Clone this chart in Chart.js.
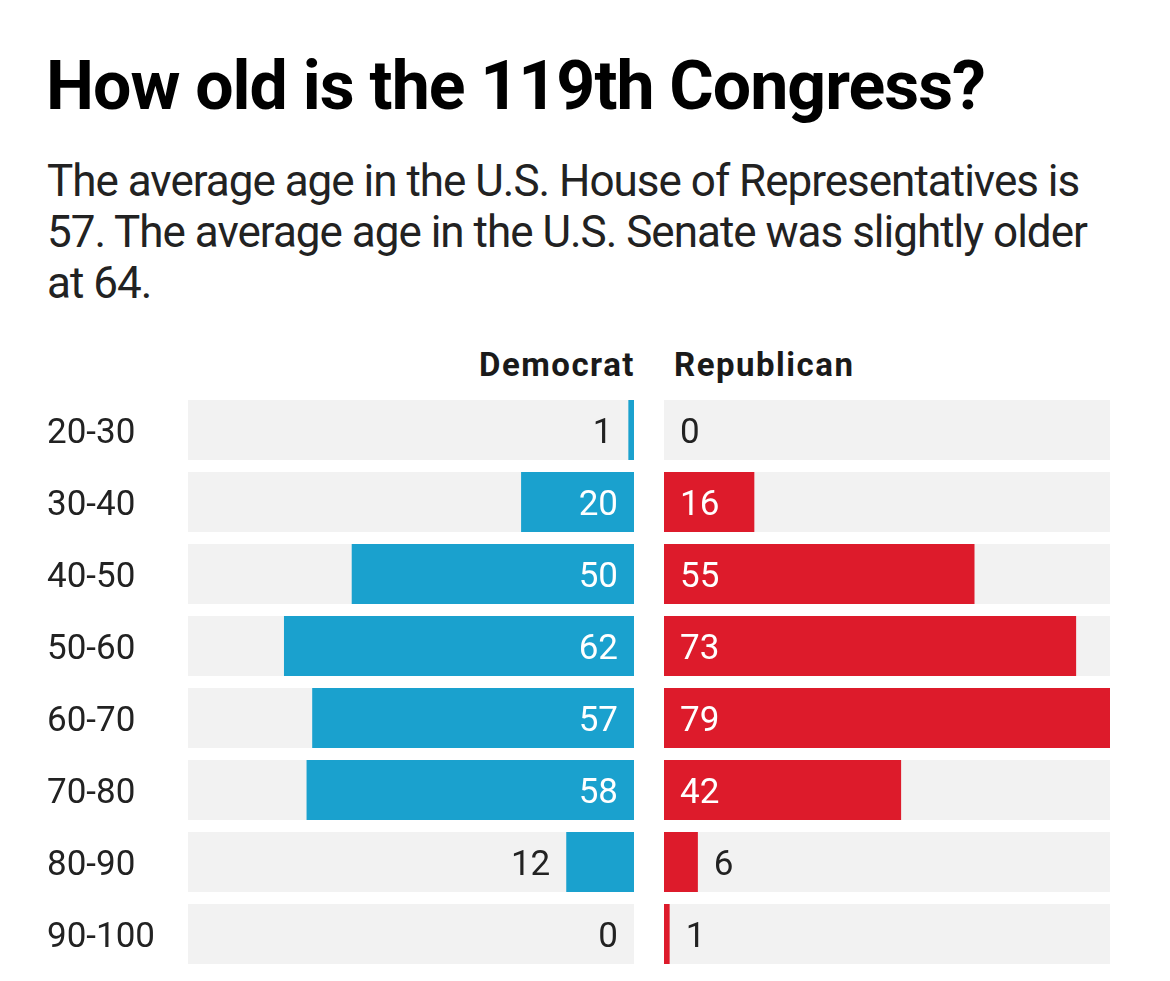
<!DOCTYPE html>
<html>
<head>
<meta charset="utf-8">
<script src="https://cdn.jsdelivr.net/npm/chart.js@4.4.1/dist/chart.umd.min.js"></script>
<style>
  html, body { margin: 0; padding: 0; background: #fff; }
  body { width: 1170px; height: 981px; position: relative; overflow: hidden; font-family: Roboto, sans-serif; color: #000; }
  h1 { position: absolute; left: 46px; top: 46px; margin: 0; font-size: 68px; font-weight: 700; line-height: 80px; letter-spacing: -1px; white-space: nowrap; }
  p.sub { position: absolute; left: 47px; top: 156px; margin: 0; width: 1065px; font-size: 44px; line-height: 51px; letter-spacing: -1px; color: #222; }
  .hdr { position: absolute; top: 345px; font-size: 33px; font-weight: 700; color: #1a1a1a; line-height: 40px; letter-spacing: 1.5px; white-space: nowrap; }
  #hdem { right: calc(1170px - 635px); }
  #hrep { left: 674px; }
  #wl { position: absolute; left: 0px; top: 394px; width: 634px; height: 576px; }
  #wr { position: absolute; left: 664px; top: 394px; width: 446px; height: 576px; }
</style>
</head>
<body>
<h1>How old is the 119th Congress?</h1>
<p class="sub">The average age in the U.S. House of Representatives is 57. The average age in the U.S. Senate was slightly older at 64.</p>
<div class="hdr" id="hdem">Democrat</div>
<div class="hdr" id="hrep">Republican</div>
<div id="wl"><canvas id="cl"></canvas></div>
<div id="wr"><canvas id="cr"></canvas></div>
<script>
const ageGroups = ["20-30", "30-40", "40-50", "50-60", "60-70", "70-80", "80-90", "90-100"];
const democrat = [1, 20, 50, 62, 57, 58, 12, 0];
const republican = [0, 16, 55, 73, 79, 42, 6, 1];
const scaleMax = 79;
const background = ageGroups.map(() => scaleMax);

const BLUE = '#1aa1ce';
const RED = '#dd1b2b';
const GREY = '#f2f2f2';
const FONT = 'Roboto, sans-serif';

const valueLabels = {
  id: 'valueLabels',
  afterDatasetsDraw(chart, args, opts) {
    const ctx = chart.ctx;
    const meta = chart.getDatasetMeta(1);
    const data = chart.data.datasets[1].data;
    const side = opts.side;
    ctx.save();
    ctx.font = '35px ' + FONT;
    ctx.textBaseline = 'alphabetic';
    meta.data.forEach((bar, i) => {
      const txt = String(data[i]);
      const tw = ctx.measureText(txt).width;
      const w = Math.abs(bar.x - bar.base);
      const inside = w > tw + 40;
      const y = bar.y + 12.5;
      if (side === 'left') {
        ctx.textAlign = 'right';
        if (inside) { ctx.fillStyle = '#fff'; ctx.fillText(txt, bar.base - 16, y); }
        else { ctx.fillStyle = '#222'; ctx.fillText(txt, bar.x - 16, y); }
      } else {
        ctx.textAlign = 'left';
        if (inside) { ctx.fillStyle = '#fff'; ctx.fillText(txt, bar.base + 16, y); }
        else { ctx.fillStyle = '#222'; ctx.fillText(txt, bar.x + 16, y); }
      }
    });
    if (opts.categories) {
      const ys = chart.scales.y;
      ctx.textAlign = 'left';
      ctx.fillStyle = '#222';
      chart.data.labels.forEach((lab, i) => {
        ctx.fillText(lab, 47, ys.getPixelForTick(i) + 12.5);
      });
    }
    ctx.restore();
  }
};

function makeChart(id, values, color, side) {
  return new Chart(document.getElementById(id), {
    type: 'bar',
    data: {
      labels: ageGroups,
      datasets: [
        { data: background, backgroundColor: GREY, grouped: false, order: 2,
          barPercentage: 1, categoryPercentage: 60 / 72 },
        { data: values, backgroundColor: color, grouped: false, order: 1,
          barPercentage: 1, categoryPercentage: 60 / 72 }
      ]
    },
    options: {
      indexAxis: 'y',
      responsive: true,
      maintainAspectRatio: false,
      animation: false,
      layout: { padding: { left: side === 'left' ? 188 : 0, right: 0, top: 0, bottom: 0 } },
      plugins: { legend: { display: false }, tooltip: { enabled: false },
        valueLabels: { side, categories: side === 'left' } },
      scales: {
        x: { display: false, min: 0, max: scaleMax, reverse: side === 'left' },
        y: { display: false }
      }
    },
    plugins: [valueLabels]
  });
}

makeChart('cl', democrat, BLUE, 'left');
makeChart('cr', republican, RED, 'right');
</script>
</body>
</html>
